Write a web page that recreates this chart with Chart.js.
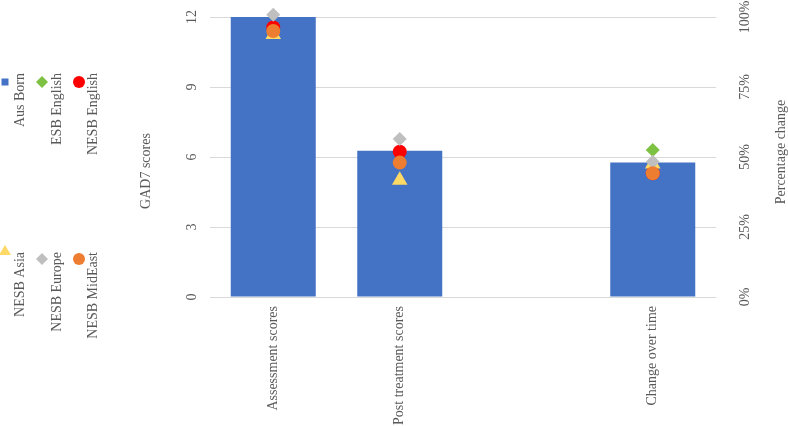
<!DOCTYPE html>
<html>
<head>
<meta charset="utf-8">
<script src="https://cdn.jsdelivr.net/npm/chart.js@4.4.1/dist/chart.umd.min.js"></script>
<style>
  body { margin: 0; background: #fff; }
  #wrap { width: 788px; height: 426px; }
</style>
</head>
<body>
<div id="wrap"><canvas id="canvas" width="788" height="426"></canvas></div>
<script>
// categories (third slot is an empty gap in the original)
const categories = ['Assessment scores', 'Post treatment scores', '', 'Change over time'];

// GAD7 scores for the first two categories, percentage change for the last one
// (hidden markers are estimated to sit behind the ones drawn over them)
const ausBorn      = [12.0, 6.27];
const ausBornPct   = 48;
const esbEnglish   = [11.55, 6.23];
const esbEnglishPct = 52.5;
const nesbEnglish  = [11.55, 6.23];
const nesbEnglishPct = 44.2;
const nesbAsia     = [11.25, 5.0];
const nesbAsiaPct  = 47.5;
const nesbEurope   = [12.1, 6.77];
const nesbEuropePct = 48.3;
const nesbMidEast  = [11.4, 5.76];
const nesbMidEastPct = 44.2;

const scoreTicks = [0, 3, 6, 9, 12];
const pctTicks = [0, 25, 50, 75, 100];

const textColor = '#595959';
const font = '"Liberation Serif", "Times New Roman", serif';

function scoreData(arr) {
    return [arr[0], arr[1], null, null];
}
function pctData(v) {
    return [null, null, null, v];
}

// one group = two point datasets (score axis + percent axis)
function pointSets(label, scores, pct, color, style, radius, order) {
    const base = {
        type: 'line',
        label: label,
        showLine: false,
        clip: false,
        pointStyle: style,
        pointRadius: radius,
        pointBackgroundColor: color,
        pointBorderWidth: 0,
        borderColor: color,
        backgroundColor: color,
        order: order
    };
    return [
        Object.assign({}, base, { data: scoreData(scores), yAxisID: 'y' }),
        Object.assign({}, base, { data: pctData(pct), yAxisID: 'y1' })
    ];
}

function drawUp(ctx, text, x, y, align) {
    ctx.save();
    ctx.translate(x, y);
    ctx.rotate(-Math.PI / 2);
    ctx.textAlign = align;
    ctx.textBaseline = 'middle';
    ctx.fillText(text, 0, 0);
    ctx.restore();
}

function marker(ctx, style, color, x, y) {
    ctx.fillStyle = color;
    ctx.beginPath();
    if (style === 'rect') {
        ctx.rect(x - 3.5, y - 3.5, 7, 7);
    } else if (style === 'rectRot') {
        ctx.moveTo(x, y - 6); ctx.lineTo(x + 6, y); ctx.lineTo(x, y + 6); ctx.lineTo(x - 6, y);
    } else if (style === 'triangle') {
        ctx.moveTo(x, y - 6); ctx.lineTo(x + 6, y + 4); ctx.lineTo(x - 6, y + 4);
    } else {
        ctx.arc(x, y, 6, 0, Math.PI * 2);
    }
    ctx.closePath();
    ctx.fill();
}

const legendItems = [
    { text: 'Aus Born',     style: 'rect',     color: '#4472C4', mx: 5,  my: 82,  tx: 20, ty: 73 },
    { text: 'ESB English',  style: 'rectRot',  color: '#7DC242', mx: 42, my: 82,  tx: 57, ty: 73 },
    { text: 'NESB English', style: 'circle',   color: '#FF0000', mx: 79, my: 82,  tx: 93, ty: 73 },
    { text: 'NESB Asia',    style: 'triangle', color: '#FFD966', mx: 5,  my: 251, tx: 20, ty: 252 },
    { text: 'NESB Europe',  style: 'rectRot',  color: '#BFBFBF', mx: 42, my: 259, tx: 57, ty: 252 },
    { text: 'NESB MidEast', style: 'circle',   color: '#ED7D31', mx: 79, my: 259, tx: 93, ty: 252 }
];

// rotated labels that the library cannot rotate itself
const rotatedText = {
    id: 'rotatedText',
    afterDraw(chart) {
        const ctx = chart.ctx;
        const y = chart.scales.y;
        const y1 = chart.scales.y1;
        ctx.save();
        ctx.font = '14px ' + font;
        ctx.fillStyle = textColor;
        y.ticks.forEach(function (t) {
            drawUp(ctx, String(t.value), 192, y.getPixelForValue(t.value), 'center');
        });
        y1.ticks.forEach(function (t) {
            drawUp(ctx, t.value + '%', 745, y1.getPixelForValue(t.value), 'center');
        });
        drawUp(ctx, 'GAD7 scores', 146, 171, 'center');
        drawUp(ctx, 'Percentage change', 781, 152, 'center');
        legendItems.forEach(function (item) {
            marker(ctx, item.style, item.color, item.mx, item.my);
            ctx.fillStyle = textColor;
            drawUp(ctx, item.text, item.tx, item.ty, 'right');
        });
        ctx.restore();
    }
};

const ctx = document.getElementById('canvas').getContext('2d');

const datasets = [
    {
        type: 'bar',
        label: 'Aus Born',
        data: scoreData(ausBorn),
        yAxisID: 'y',
        backgroundColor: '#4472C4',
        grouped: false,
        categoryPercentage: 1,
        barPercentage: 0.672,
        order: 10
    },
    {
        type: 'bar',
        label: 'Aus Born',
        data: pctData(ausBornPct),
        yAxisID: 'y1',
        backgroundColor: '#4472C4',
        grouped: false,
        categoryPercentage: 1,
        barPercentage: 0.672,
        order: 10
    }
]
.concat(pointSets('ESB English', esbEnglish, esbEnglishPct, '#7DC242', 'rectRot', 7, 5))
.concat(pointSets('NESB English', nesbEnglish, nesbEnglishPct, '#FF0000', 'circle', 7, 4))
.concat(pointSets('NESB Asia', nesbAsia, nesbAsiaPct, '#FFD966', 'triangle', 9, 3))
.concat(pointSets('NESB Europe', nesbEurope, nesbEuropePct, '#BFBFBF', 'rectRot', 7, 2))
.concat(pointSets('NESB MidEast', nesbMidEast, nesbMidEastPct, '#ED7D31', 'circle', 7, 1));

const myChart = new Chart(ctx, {
    type: 'bar',
    data: {
        labels: categories,
        datasets: datasets
    },
    options: {
        responsive: false,
        animation: false,
        layout: { padding: { left: 140, top: 17, right: 0, bottom: 0 } },
        plugins: {
            legend: { display: false },
            tooltip: { enabled: false }
        },
        scales: {
            x: {
                grid: { display: false },
                border: { display: false },
                ticks: {
                    minRotation: 90,
                    maxRotation: 90,
                    padding: 1,
                    color: textColor,
                    font: { family: font, size: 14 }
                },
                afterFit: function (scale) { scale.height = 129; }
            },
            y: {
                position: 'left',
                min: 0,
                max: 12,
                afterBuildTicks: function (scale) {
                    scale.ticks = scoreTicks.map(function (v) { return { value: v }; });
                },
                grid: { color: '#D9D9D9', drawTicks: false },
                border: { display: false },
                ticks: { display: false },
                afterFit: function (scale) { scale.width = 70; }
            },
            y1: {
                position: 'right',
                min: 0,
                max: 100,
                afterBuildTicks: function (scale) {
                    scale.ticks = pctTicks.map(function (v) { return { value: v }; });
                },
                grid: { drawOnChartArea: false, drawTicks: false },
                border: { display: false },
                ticks: { display: false },
                afterFit: function (scale) { scale.width = 72; }
            }
        }
    },
    plugins: [rotatedText]
});
</script>
</body>
</html>
